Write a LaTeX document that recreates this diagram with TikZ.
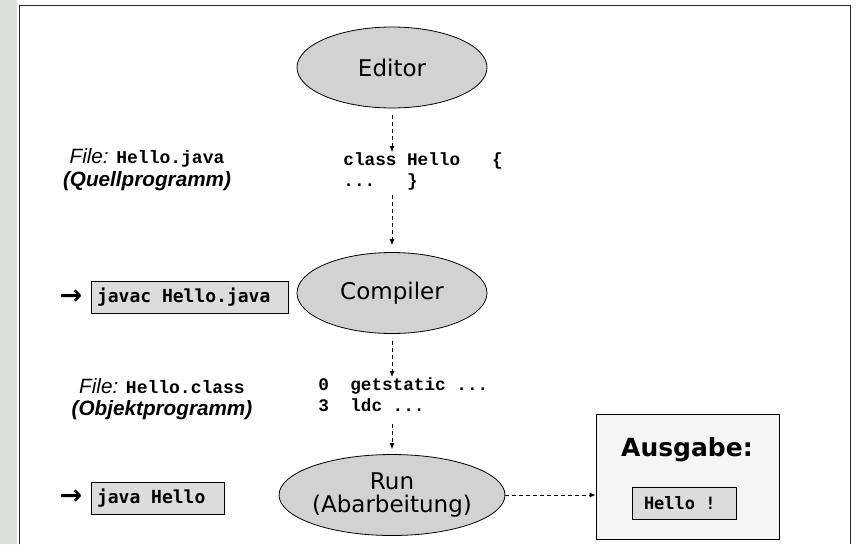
\documentclass[tikz,border=0pt]{standalone}
\usepackage{fontspec}
\setmainfont{Liberation Sans}
\setmonofont{Liberation Mono}
\newfontfamily\vera{DejaVu Sans}
\newfontfamily\veramono{DejaVu Sans Mono}
\usetikzlibrary{shapes.geometric,arrows.meta}
\definecolor{leaf}{RGB}{214,226,211}
\definecolor{phasegray}{RGB}{210,210,210}
\definecolor{cmdgray}{RGB}{220,220,220}
\definecolor{screengray}{RGB}{245,245,245}
\definecolor{framegray}{RGB}{40,40,40}
\newcommand{\gap}{\hspace{.602em}}
\tikzset{
  phase/.style={ellipse, draw, fill=phasegray, minimum width=190pt, minimum height=81pt,
    inner sep=0pt, align=center, font=\vera\fontsize{23}{23}\selectfont},
  cmd/.style={draw, fill=cmdgray, minimum height=32pt, inner ysep=0pt, inner xsep=6pt,
    text width=#1, align=left, font=\veramono\bfseries\fontsize{18}{20}\selectfont},
  listing/.style={anchor=north west, inner sep=0pt, align=left,
    font=\ttfamily\bfseries\fontsize{17.7}{21}\selectfont},
  filelabel/.style={align=center, inner sep=0pt, font=\fontsize{20.7}{22.5}\selectfont},
  prompt/.style={inner sep=0pt, font=\vera\bfseries\fontsize{27}{27}\selectfont},
  flow/.style={dash pattern=on 4pt off 3pt, -{Latex[length=6pt,width=5pt]}}
}
\begin{document}
\begin{tikzpicture}[x=1pt, y=-1pt, line width=0.8pt]
      \useasboundingbox (0,0) rectangle (856,544);
      \fill[leaf] (0,0) rectangle (17,544);
      \draw[framegray] (19,544) |- (850,5) -- (850,544);
      \node[phase] (editor) at (392,67.5) {Editor};
      \node[phase] (compiler) at (392,293) {Compiler};
      \node[phase] (run) at (392,495) {Run\\(Abarbeitung)};
      \node[listing] (src) at (343,152) {class Hello\ \ \ \{\\...\ \ \ \}};
      \node[listing] (obj) at (318,377) {0\ \ getstatic ...\\3\ \ ldc ...};
      \node[filelabel] (srcfile) at (147,169.5) {{\itshape File:} {\ttfamily\bfseries\fontsize{18}{22.5}\selectfont Hello.java}\\{\bfseries\itshape (Quellprogramm)}};
      \node[filelabel] (objfile) at (162,399) {{\itshape File:} {\ttfamily\bfseries\fontsize{18}{22.5}\selectfont Hello.class}\\{\bfseries\itshape (Objektprogramm)}};
      \node[prompt] (go1) at (71,297) {→};
      \node[prompt] (go2) at (71,497) {→};
      \node[cmd=185pt] (javac) at (189.5,297) {javac\gap Hello.java};
      \node[cmd=121pt] (java) at (157.5,498) {java\gap Hello};
      \node[draw, fill=screengray, minimum width=183pt, minimum height=125pt] (screen) at (687.5,476.5) {};
      \node[inner sep=0pt, font=\vera\bfseries\fontsize{25}{25}\selectfont] (title) at (687,450) {Ausgabe:};
      \node[cmd=80pt, inner xsep=12pt, font=\veramono\bfseries\fontsize{17}{20}\selectfont] (hello) at (684,503) {Hello\gap !};
      \begin{scope}[flow]
        \draw[shorten <=7pt] (editor) -- (editor |- src.north);
        \draw[shorten <=5pt, shorten >=7pt] (compiler |- src.south) -- (compiler);
        \draw[shorten <=7pt] (compiler) -- (compiler |- obj.north);
        \draw[shorten <=12pt, shorten >=5pt] (run |- obj.south) -- (run);
        \draw (run) -- (run -| screen.west);
      \end{scope}
    \end{tikzpicture}
\end{document}
